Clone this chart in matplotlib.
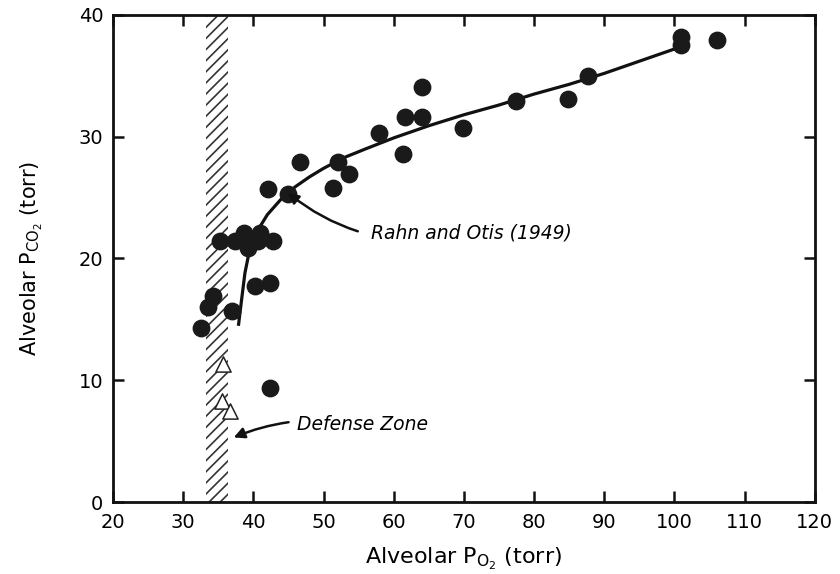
import numpy as np
import matplotlib
matplotlib.use("Agg")
import matplotlib.pyplot as plt

plt.rcParams['font.family'] = ['DejaVu Sans']
plt.rcParams['mathtext.fontset'] = 'dejavusans'
plt.rcParams['hatch.linewidth'] = 1.2

# subjects (filled circles)
po2_dots = [32.5, 33.5, 34.3, 36.9, 35.3, 37.4, 38.6, 39.3, 40.6, 41.0, 42.8,
            40.3, 42.4, 42.4, 42.1, 45.0, 46.7, 51.3, 52.1, 53.6, 57.9, 61.3,
            61.6, 64.0, 64.0, 69.9, 77.4, 84.8, 87.7, 101.0, 101.0, 106.1]
pco2_dots = [14.3, 16.0, 16.9, 15.7, 21.4, 21.4, 22.1, 20.9, 21.4, 22.1, 21.4,
             17.7, 18.0, 9.4, 25.7, 25.3, 27.9, 25.8, 27.9, 26.9, 30.3, 28.6,
             31.6, 31.6, 34.1, 30.7, 32.9, 33.1, 35.0, 38.2, 37.5, 37.9]

# open triangles
po2_tri = [35.7, 35.6, 36.7]
pco2_tri = [11.3, 8.3, 7.5]

# Rahn and Otis (1949) curve
curve_po2 = [37.9, 38.3, 38.8, 39.5, 40.5, 42, 44, 46, 48, 50, 53, 56, 60,
             65, 70, 75, 80, 85, 90, 95, 101]
curve_pco2 = [14.6, 16.5, 18.8, 20.8, 22.2, 23.6, 24.9, 25.9, 26.7, 27.4, 28.3,
              29.0, 29.9, 30.9, 31.8, 32.6, 33.5, 34.3, 35.2, 36.2, 37.4]

defense_zone = (33.2, 36.4)

fig = plt.figure(figsize=(8.4, 5.74), dpi=100)
ax = fig.add_axes([0.1345, 0.1254, 0.8355, 0.8486])

ax.axvspan(defense_zone[0], defense_zone[1], facecolor='none', edgecolor='#333333',
           hatch='///', linewidth=0, zorder=1)
ax.plot(curve_po2, curve_pco2, color='#111111', lw=2.3, zorder=2)
ax.scatter(po2_dots, pco2_dots, s=140, color='#1a1a1a', edgecolor='#1a1a1a', zorder=3)
ax.scatter(po2_tri, pco2_tri, s=120, marker='^', facecolor='white',
           edgecolor='#222222', linewidth=1.1, zorder=3)

ax.annotate('Rahn and Otis (1949)', xy=(44.9, 25.4), xytext=(56.8, 22.1),
            fontsize=13.5, style='italic', va='center', ha='left',
            arrowprops=dict(arrowstyle='-|>', color='#111111', lw=1.8,
                            shrinkA=8, shrinkB=0, mutation_scale=16,
                            connectionstyle='arc3,rad=-0.25'))
ax.annotate('Defense Zone', xy=(37.2, 5.3), xytext=(46.2, 6.4),
            fontsize=13.5, style='italic', va='center', ha='left',
            arrowprops=dict(arrowstyle='-|>', color='#111111', lw=1.8,
                            shrinkA=4, shrinkB=0, mutation_scale=16,
                            connectionstyle='arc3,rad=0.15'))

ax.set_xlim(20, 120)
ax.set_ylim(0, 40)
ax.set_xticks(np.arange(20, 121, 10))
ax.set_yticks(np.arange(0, 41, 10))
ax.tick_params(direction='in', length=8, width=1.8, top=True, right=True,
               labelsize=14, color='#111111')
ax.tick_params(axis='x', pad=8)
ax.tick_params(axis='y', pad=7)
for sp in ax.spines.values():
    sp.set_linewidth(2.0)
    sp.set_color('#111111')

ax.set_xlabel(r'Alveolar P$_{\mathrm{O_2}}$ (torr)', fontsize=16, labelpad=10)
ax.set_ylabel(r'Alveolar P$_{\mathrm{CO_2}}$ (torr)', fontsize=15, labelpad=24)

fig.savefig('out.png', dpi=100)
